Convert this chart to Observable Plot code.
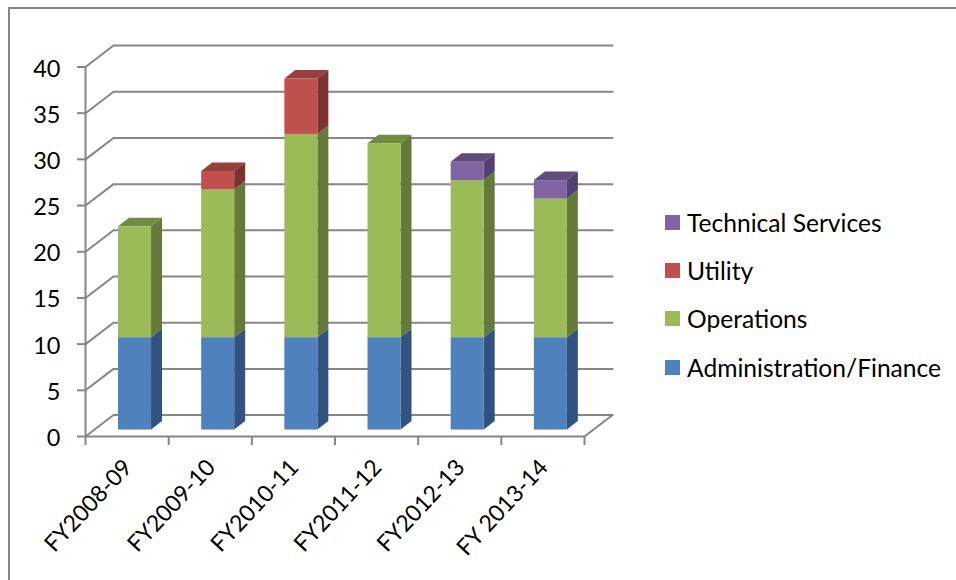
<!DOCTYPE html>
<html>
<head>
<meta charset="utf-8">
<script src="https://cdn.jsdelivr.net/npm/d3@7"></script>
<script src="https://cdn.jsdelivr.net/npm/@observablehq/plot@0.6"></script>
<style>
html,body{margin:0;padding:0;background:#fff;overflow:hidden}
#stage{position:relative;width:956px;height:580px;overflow:hidden;font-family:Lato,"Noto Sans",sans-serif;color:#000}
#frame{position:absolute;left:8px;top:7px;width:1000px;height:700px;border-left:2px solid #868686;border-top:2px solid #868686}
#chart{position:absolute;left:0;top:0}
#chart svg{background:transparent;overflow:visible}
#legend{position:absolute;left:665px;top:198px}
.row{display:flex;align-items:center;height:48.3px;font-size:24.6px;white-space:nowrap}
.sw{width:15px;height:15px;margin-right:7px;flex:none}
</style>
</head>
<body>
<div id="stage">
  <div id="frame"></div>
  <div id="chart"></div>
  <div id="legend"></div>
</div>
<script>
const categories = ["FY2008-09","FY2009-10","FY2010-11","FY2011-12","FY2012-13","FY 2013-14"];
const seriesNames = ["Administration/Finance","Operations","Utility","Technical Services"];
const administration = [10,10,10,10,10,10];
const operations = [12,16,22,21,17,15];
const utility = [0,2,6,0,0,0];
const technical = [0,0,0,0,2,2];
const yTicks = [0,5,10,15,20,25,30,35,40];
const frontColors = ["#4F81BD","#9BBB59","#C0504D","#8064A2"];
const sideColors = ["#325380","#647A3A","#7C3230","#54406E"];
const topColors = ["#3A5F8F","#728D43","#94403D","#604B7E"];
const gridColor = "#868686";

// 3-D projection, expressed in scale units
const wallX = 0.337, wallY = 2.32;       // depth of the floor
const barDX = 0.132, barDY = 0.92;       // depth of a bar
const barInset = 0.397, barWidth = 0.397, barLift = 0.7;

const values = [administration, operations, utility, technical];
const segs = [];
categories.forEach((c, i) => {
  let base = 0;
  values.forEach((arr, s) => {
    if (arr[i] > 0) {
      segs.push({i, s, x0: i + barInset, x1: i + barInset + barWidth, y0: base + barLift, y1: base + arr[i] + barLift});
      base += arr[i];
    }
  });
});
const sidePts = segs.flatMap((d, k) => [
  {id: k, x: d.x1, y1: d.y0, y2: d.y1, fill: sideColors[d.s]},
  {id: k, x: d.x1 + barDX, y1: d.y0 + barDY, y2: d.y1 + barDY, fill: sideColors[d.s]}
]);
// only the highest segment of each bar shows its top face
const topSegs = categories.map((c, i) => segs.filter(d => d.i === i).pop());
const topPts = topSegs.flatMap((d, k) => [
  {id: k, x: d.x0, y1: d.y1, y2: d.y1, fill: topColors[d.s]},
  {id: k, x: d.x0 + barDX, y1: d.y1, y2: d.y1 + barDY, fill: topColors[d.s]},
  {id: k, x: d.x1, y1: d.y1, y2: d.y1 + barDY, fill: topColors[d.s]},
  {id: k, x: d.x1 + barDX, y1: d.y1 + barDY, y2: d.y1 + barDY, fill: topColors[d.s]}
]);
const n = categories.length;
const gridPts = yTicks.flatMap(v => [
  {id: v, x: 0, y: v},
  {id: v, x: wallX, y: v + wallY},
  {id: v, x: n + wallX, y: v + wallY}
]);
const floorPts = [{x: 0, y: 0}, {x: n, y: 0}, {x: n + wallX, y: wallY}];
const axisPts = [{x: 0, y: 0}, {x: 0, y: 40}];
const ticksX = d3.range(n + 1);

const plot = Plot.plot({
  width: 956, height: 580,
  marginLeft: 85, marginRight: 372, marginTop: 66.5, marginBottom: 144,
  style: {fontFamily: 'Lato,"Noto Sans",sans-serif', color: "#000", background: "transparent"},
  x: {type: "linear", domain: [0, n], axis: null},
  y: {type: "linear", domain: [0, 40], axis: null},
  marks: [
    Plot.line(gridPts, {x: "x", y: "y", z: "id", stroke: gridColor, strokeWidth: 2}),
    Plot.line(floorPts, {x: "x", y: "y", stroke: gridColor, strokeWidth: 2}),
    Plot.line(axisPts, {x: "x", y: "y", stroke: gridColor, strokeWidth: 2}),
    Plot.axisX({anchor: "bottom", ticks: ticksX, tickSize: 9, text: null, stroke: gridColor, strokeWidth: 2, label: null}),
    Plot.axisY({anchor: "left", ticks: yTicks, tickSize: 8, text: null, stroke: gridColor, strokeWidth: 2, label: null}),
    Plot.axisY({anchor: "left", ticks: yTicks, tickSize: 0, tickPadding: 25, dy: 2, fontSize: 23.5, label: null, textStroke: "none"}),
    Plot.text(categories, {x: (d, i) => i + 0.5, y: () => 0, text: d => d, rotate: -47, textAnchor: "end", lineAnchor: "middle", dx: 1, dy: 27, fontSize: 23}),
    Plot.area(sidePts, {x1: "x", y1: "y1", y2: "y2", z: "id", fill: "fill"}),
    Plot.area(topPts, {x1: "x", y1: "y1", y2: "y2", z: "id", fill: "fill"}),
    Plot.rect(segs, {x1: "x0", x2: "x1", y1: "y0", y2: "y1", fill: d => frontColors[d.s]})
  ]
});
document.getElementById("chart").append(plot);

const legend = document.getElementById("legend");
[3,2,1,0].forEach(s => {
  const r = document.createElement("div"); r.className = "row";
  const sw = document.createElement("span"); sw.className = "sw"; sw.style.background = frontColors[s];
  const t = document.createElement("span"); t.textContent = seriesNames[s];
  r.append(sw, t); legend.append(r);
});
</script>
</body>
</html>
